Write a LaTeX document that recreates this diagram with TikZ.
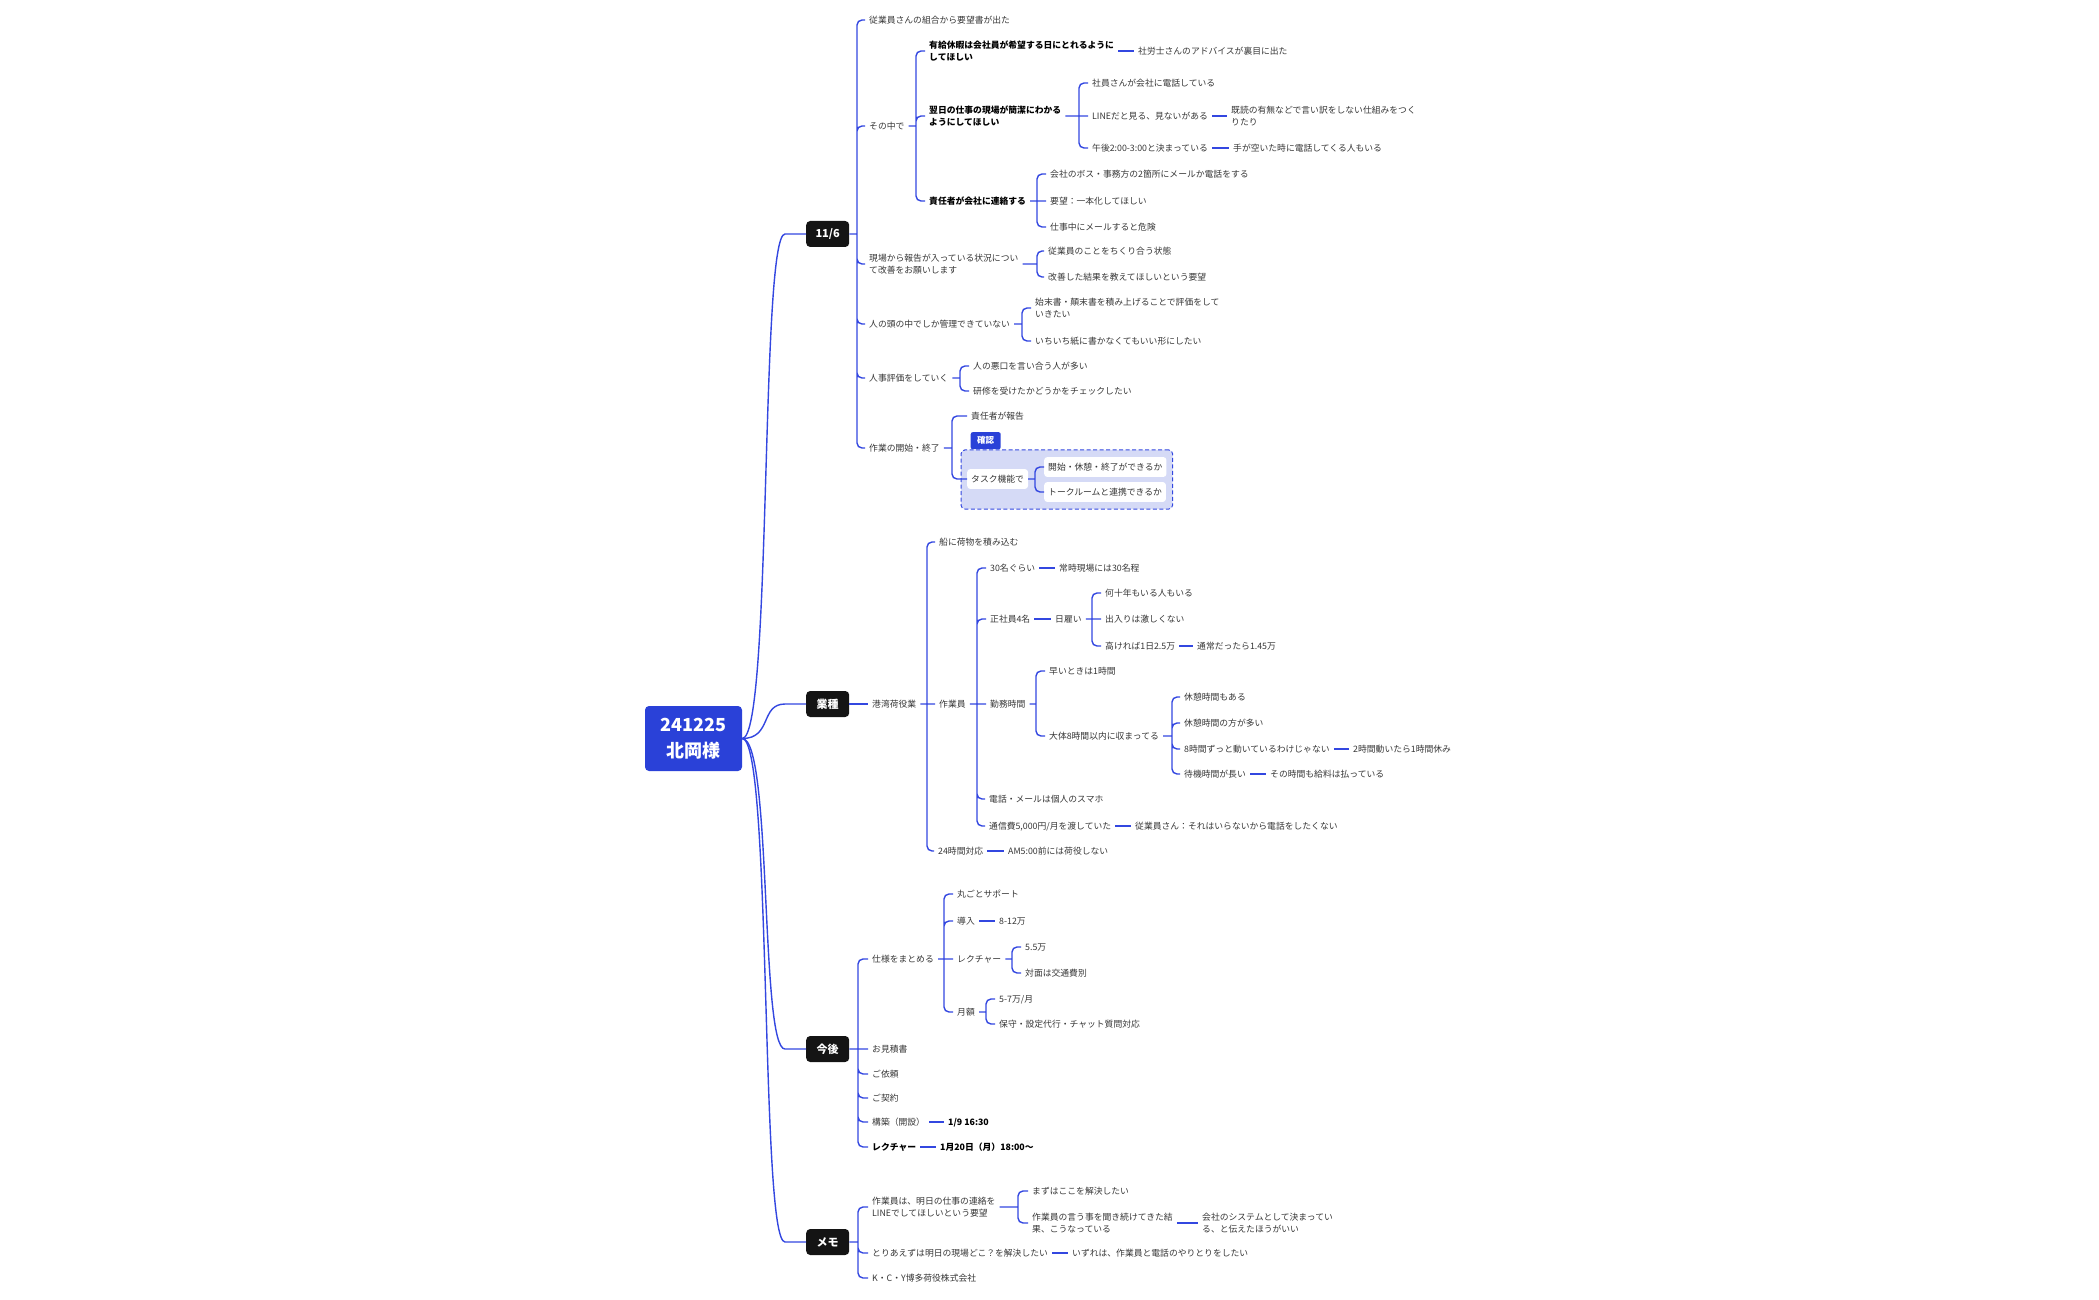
\documentclass[tikz,border=0pt]{standalone}
\usepackage{fontspec}
\setmainfont{Noto Sans CJK JP}
\usetikzlibrary{fit,backgrounds}

\definecolor{linkblue}{HTML}{3347E0}
\definecolor{rootblue}{HTML}{2A41D8}
\definecolor{groupfill}{HTML}{D5DAF6}
\definecolor{inkgray}{HTML}{363636}
\definecolor{nearblack}{HTML}{141414}

\begin{document}
\begin{tikzpicture}[
    x=1pt, y=-1pt,
    % --- Node styles ---
    base/.style={anchor=west, inner xsep=4pt, inner ysep=1pt, text=inkgray,
                 font=\fontsize{8.8}{12.6}\selectfont},
    leaf/.style={base, text height=7.7pt, text depth=1.1pt},
    leaftwo/.style={base, align=left},
    strong/.style={text=black, font=\fontsize{8.8}{12.6}\selectfont\bfseries},
    boxed/.style={leaf, fill=white, rounded corners=3pt, inner ysep=5.5pt},
    topic/.style={anchor=west, fill=nearblack, text=white, rounded corners=4pt,
                  minimum width=43pt, minimum height=26pt, inner sep=2pt,
                  font=\fontsize{11}{13}\selectfont\bfseries},
    root/.style={fill=rootblue, text=white, rounded corners=4pt, align=center,
                 minimum width=97pt, minimum height=65pt,
                 font=\fontsize{18}{26}\selectfont\bfseries},
    % --- Connector and group styles ---
    branch/.style={draw=linkblue, line width=1.4pt, rounded corners=5pt},
    group/.style={draw=linkblue, fill=groupfill, dash pattern=on 4pt off 2.5pt,
                  line width=1pt, rounded corners=4pt, inner xsep=6pt, inner ysep=7pt},
    tab/.style={fill=rootblue, text=white, rounded corners=2pt, inner sep=1pt,
                minimum width=30pt, minimum height=17pt,
                font=\fontsize{8.5}{10}\selectfont\bfseries},
]
\useasboundingbox (0,0) rectangle (2099,1300);

% === Root and topics ===
\node[root] (r) at (693.5,738.5) {241225\\北岡様};
\node[topic] (a) at (806,234) {11/6};
\node[topic] (b) at (806,704) {業種};
\node[topic] (c) at (806,1049) {今後};
\node[topic] (d) at (806,1242) {メモ};

% === 11/6 ===
\node[leaf] (a1) at (865,20) {従業員さんの組合から要望書が出た};
\node[leaf] (a2) at (865,126) {その中で};
\node[leaftwo] (a3) at (865,264) {現場から報告が入っている状況につい\\て改善をお願いします};
\node[leaf] (a4) at (865,324) {人の頭の中でしか管理できていない};
\node[leaf] (a5) at (865,378) {人事評価をしていく};
\node[leaf] (a6) at (865,448) {作業の開始・終了};

\node[leaftwo, strong] (a21) at (925,51) {有給休暇は会社員が希望する日にとれるように\\してほしい};
\node[leaftwo, strong] (a22) at (925,116) {翌日の仕事の現場が簡潔にわかる\\ようにしてほしい};
\node[leaf, strong] (a23) at (925,201) {責任者が会社に連絡する};
\node[leaf] (a211) at (1134,51) {社労士さんのアドバイスが裏目に出た};
\node[leaf] (a221) at (1088,83) {社員さんが会社に電話している};
\node[leaf] (a222) at (1088,116) {LINEだと見る、見ないがある};
\node[leaf] (a223) at (1088,148) {午後2:00-3:00と決まっている};
\node[leaftwo] (a2221) at (1227,116) {既読の有無などで言い訳をしない仕組みをつく\\りたり};
\node[leaf] (a2231) at (1229,148) {手が空いた時に電話してくる人もいる};
\node[leaf] (a231) at (1046,174) {会社のボス・事務方の2箇所にメールか電話をする};
\node[leaf] (a232) at (1046,201) {要望：一本化してほしい};
\node[leaf] (a233) at (1046,227) {仕事中にメールすると危険};

\node[leaf] (a31) at (1044,251) {従業員のことをちくり合う状態};
\node[leaf] (a32) at (1044,277) {改善した結果を教えてほしいという要望};
\node[leaftwo] (a41) at (1031,308) {始末書・顛末書を積み上げることで評価をして\\いきたい};
\node[leaf] (a42) at (1031,341) {いちいち紙に書かなくてもいい形にしたい};
\node[leaf] (a51) at (969,366) {人の悪口を言い合う人が多い};
\node[leaf] (a52) at (969,391) {研修を受けたかどうかをチェックしたい};
\node[leaf] (a61) at (967,416) {責任者が報告};
\node[boxed] (a62) at (967,479) {タスク機能で};
\node[boxed] (a621) at (1044,467) {開始・休憩・終了ができるか};
\node[boxed] (a622) at (1044,492) {トークルームと連携できるか};

% === 業種 ===
\node[leaf] (b1) at (868,704) {港湾荷役業};
\node[leaf] (b11) at (935,542) {船に荷物を積み込む};
\node[leaf] (b12) at (935,704) {作業員};
\node[leaf] (b13) at (934,851) {24時間対応};
\node[leaf] (b121) at (986,568) {30名ぐらい};
\node[leaf] (b122) at (986,619) {正社員4名};
\node[leaf] (b123) at (986,704) {勤務時間};
\node[leaf] (b124) at (985,799) {電話・メールは個人のスマホ};
\node[leaf] (b125) at (985,826) {通信費5,000円/月を渡していた};
\node[leaf] (b1211) at (1055,568) {常時現場には30名程};
\node[leaf] (b1221) at (1051,619) {日雇い};
\node[leaf] (b12211) at (1101,593) {何十年もいる人もいる};
\node[leaf] (b12212) at (1101,619) {出入りは激しくない};
\node[leaf] (b12213) at (1101,646) {高ければ1日2.5万};
\node[leaf] (b122131) at (1193,646) {通常だったら1.45万};
\node[leaf] (b1231) at (1045,671) {早いときは1時間};
\node[leaf] (b1232) at (1045,736) {大体8時間以内に収まってる};
\node[leaf] (b12321) at (1180,697) {休憩時間もある};
\node[leaf] (b12322) at (1180,723) {休憩時間の方が多い};
\node[leaf] (b12323) at (1180,749) {8時間ずっと動いているわけじゃない};
\node[leaf] (b12324) at (1180,774) {待機時間が長い};
\node[leaf] (b123231) at (1349,749) {2時間動いたら1時間休み};
\node[leaf] (b123241) at (1266,774) {その時間も給料は払っている};
\node[leaf] (b1251) at (1131,826) {従業員さん：それはいらないから電話をしたくない};
\node[leaf] (b131) at (1004,851) {AM5:00前には荷役しない};

% === 今後 ===
\node[leaf] (c1) at (868,959) {仕様をまとめる};
\node[leaf] (c2) at (868,1049) {お見積書};
\node[leaf] (c3) at (868,1074) {ご依頼};
\node[leaf] (c4) at (868,1098) {ご契約};
\node[leaf] (c5) at (868,1122) {構築（開設）};
\node[leaf, strong] (c6) at (868,1147) {レクチャー};
\node[leaf, strong] (c51) at (944,1122) {1/9 16:30};
\node[leaf, strong] (c61) at (936,1147) {1月20日（月）18:00〜};
\node[leaf] (c11) at (953,894) {丸ごとサポート};
\node[leaf] (c12) at (953,921) {導入};
\node[leaf] (c13) at (953,959) {レクチャー};
\node[leaf] (c14) at (953,1012) {月額};
\node[leaf] (c121) at (995,921) {8-12万};
\node[leaf] (c131) at (1021,947) {5.5万};
\node[leaf] (c132) at (1021,973) {対面は交通費別};
\node[leaf] (c141) at (995,999) {5-7万/月};
\node[leaf] (c142) at (995,1024) {保守・設定代行・チャット質問対応};

% === メモ ===
\node[leaftwo] (d1) at (868,1207) {作業員は、明日の仕事の連絡を\\LINEでしてほしいという要望};
\node[leaf] (d2) at (868,1253) {とりあえずは明日の現場どこ？を解決したい};
\node[leaf] (d3) at (868,1278) {K・C・Y博多荷役株式会社};
\node[leaf] (d11) at (1028,1191) {まずはここを解決したい};
\node[leaftwo] (d12) at (1028,1223) {作業員の言う事を聞き続けてきた結\\果、こうなっている};
\node[leaftwo] (d121) at (1198,1223) {会社のシステムとして決まってい\\る、と伝えたほうがいい};
\node[leaf] (d21) at (1068,1253) {いずれは、作業員と電話のやりとりをしたい};

% === Confirmation group ===
\begin{scope}[on background layer]
  \node[group, fit=(a62)(a621)(a622)] (g) {};
\end{scope}
\node[tab, anchor=south west] (g1) at ([xshift=10pt]g.north west) {確認};

% === Junctions ===
\coordinate (aj) at (857,234);
\coordinate (a2j) at (916,126);
\coordinate (a22j) at (1079,116);
\coordinate (a23j) at (1037,201);
\coordinate (a3j) at (1037,264);
\coordinate (a4j) at (1022,324);
\coordinate (a5j) at (960,378);
\coordinate (a6j) at (952,448);
\coordinate (a62j) at (1035,479);
\coordinate (b1j) at (927,704);
\coordinate (b12j) at (977,704);
\coordinate (b1221j) at (1092,619);
\coordinate (b123j) at (1036,704);
\coordinate (b1232j) at (1172,736);
\coordinate (cj) at (858,1049);
\coordinate (c1j) at (944,959);
\coordinate (c13j) at (1012,959);
\coordinate (c14j) at (986,1012);
\coordinate (dj) at (858,1242);
\coordinate (d1j) at (1018,1207);

% === Connectors ===
\foreach \t in {a,b,c,d}
  \draw[branch] (r.east) .. controls +(30,0) and +(-30,0) .. ([xshift=-16pt]\t.west) -- (\t.west);

\draw[branch] (a.east) -- (aj) (aj) |- (a1.west) (aj) |- (a2.west) (aj) |- (a3.west)
  (aj) |- (a4.west) (aj) |- (a5.west) (aj) |- (a6.west);
\draw[branch] (a2.east) -- (a2j) (a2j) |- (a21.west) (a2j) |- (a22.west) (a2j) |- (a23.west);
\draw[branch] (a21.east) -- (a211.west);
\draw[branch] (a22.east) -- (a22j) (a22j) |- (a221.west) (a22j) -- (a222.west) (a22j) |- (a223.west);
\draw[branch] (a222.east) -- (a2221.west);
\draw[branch] (a223.east) -- (a2231.west);
\draw[branch] (a23.east) -- (a23j) (a23j) |- (a231.west) (a23j) -- (a232.west) (a23j) |- (a233.west);
\draw[branch] (a3.east) -- (a3j) (a3j) |- (a31.west) (a3j) |- (a32.west);
\draw[branch] (a4.east) -- (a4j) (a4j) |- (a41.west) (a4j) |- (a42.west);
\draw[branch] (a5.east) -- (a5j) (a5j) |- (a51.west) (a5j) |- (a52.west);
\draw[branch] (a6.east) -- (a6j) (a6j) |- (a61.west) (a6j) |- (a62.west);
\draw[branch] (a62.east) -- (a62j) (a62j) |- (a621.west) (a62j) |- (a622.west);

\draw[branch] (b.east) -- (b1.west);
\draw[branch] (b1.east) -- (b1j) (b1j) |- (b11.west) (b1j) -- (b12.west) (b1j) |- (b13.west);
\draw[branch] (b12.east) -- (b12j) (b12j) |- (b121.west) (b12j) |- (b122.west)
  (b12j) -- (b123.west) (b12j) |- (b124.west) (b12j) |- (b125.west);
\draw[branch] (b121.east) -- (b1211.west);
\draw[branch] (b122.east) -- (b1221.west);
\draw[branch] (b1221.east) -- (b1221j) (b1221j) |- (b12211.west) (b1221j) -- (b12212.west)
  (b1221j) |- (b12213.west);
\draw[branch] (b12213.east) -- (b122131.west);
\draw[branch] (b123.east) -- (b123j) (b123j) |- (b1231.west) (b123j) |- (b1232.west);
\draw[branch] (b1232.east) -- (b1232j) (b1232j) |- (b12321.west) (b1232j) |- (b12322.west)
  (b1232j) |- (b12323.west) (b1232j) |- (b12324.west);
\draw[branch] (b12323.east) -- (b123231.west);
\draw[branch] (b12324.east) -- (b123241.west);
\draw[branch] (b125.east) -- (b1251.west);
\draw[branch] (b13.east) -- (b131.west);

\draw[branch] (c.east) -- (cj) (cj) |- (c1.west) (cj) -- (c2.west) (cj) |- (c3.west)
  (cj) |- (c4.west) (cj) |- (c5.west) (cj) |- (c6.west);
\draw[branch] (c5.east) -- (c51.west);
\draw[branch] (c6.east) -- (c61.west);
\draw[branch] (c1.east) -- (c1j) (c1j) |- (c11.west) (c1j) |- (c12.west) (c1j) -- (c13.west)
  (c1j) |- (c14.west);
\draw[branch] (c12.east) -- (c121.west);
\draw[branch] (c13.east) -- (c13j) (c13j) |- (c131.west) (c13j) |- (c132.west);
\draw[branch] (c14.east) -- (c14j) (c14j) |- (c141.west) (c14j) |- (c142.west);

\draw[branch] (d.east) -- (dj) (dj) |- (d1.west) (dj) |- (d2.west) (dj) |- (d3.west);
\draw[branch] (d1.east) -- (d1j) (d1j) |- (d11.west) (d1j) |- (d12.west);
\draw[branch] (d12.east) -- (d121.west);
\draw[branch] (d2.east) -- (d21.west);

\end{tikzpicture}
\end{document}
